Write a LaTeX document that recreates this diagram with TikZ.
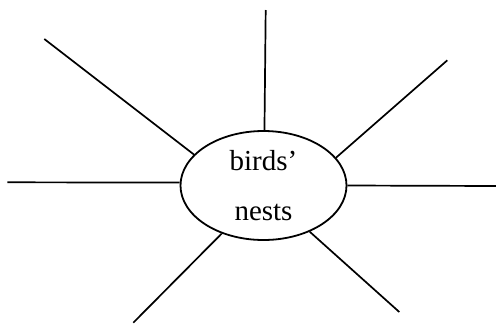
\documentclass[tikz,border=0pt]{standalone}
\usepackage{fontspec}
\setmainfont{Liberation Serif}
\usetikzlibrary{shapes}
\usetikzlibrary{positioning,calc}
\tikzset{
        % Centre word in its ellipse
        node_hub/.style={ellipse, draw=black, line width=1.8pt, inner sep=0pt, align=center,
                minimum width=166pt, minimum height=109pt, font=\fontsize{29}{50}\selectfont},
        % Spokes going out from the ellipse
        line_spoke/.style={draw=black, line width=1.7pt}
}
\begin{document}
\begin{tikzpicture}[x=1pt, y=-1pt]
            \useasboundingbox (0,0) rectangle (496,325);
            \node[node_hub] (hub) at (263.5,185.5) {birds'\\nests};
            % Free ends of the spokes
            \coordinate (tip_top) at (265.7,10);
            \coordinate (tip_ul) at (44.3,39);
            \coordinate (tip_left) at (7.3,182.3);
            \coordinate (tip_ur) at (447.3,60.3);
            \coordinate (tip_right) at (496,186);
            \coordinate (tip_ll) at (133.3,322.7);
            \coordinate (tip_lr) at (399.3,312);
            \draw[line_spoke] (hub.89) -- (tip_top);
            \draw[line_spoke] (hub.156) -- (tip_ul);
            \draw[line_spoke] (hub.178) -- (tip_left);
            \draw[line_spoke] (hub.21) -- (tip_ur);
            \draw[line_spoke] (hub.0) -- (tip_right);
            \draw[line_spoke] (hub.229) -- (tip_ll);
            \draw[line_spoke] (hub.315) -- (tip_lr);
        \end{tikzpicture}
\end{document}
